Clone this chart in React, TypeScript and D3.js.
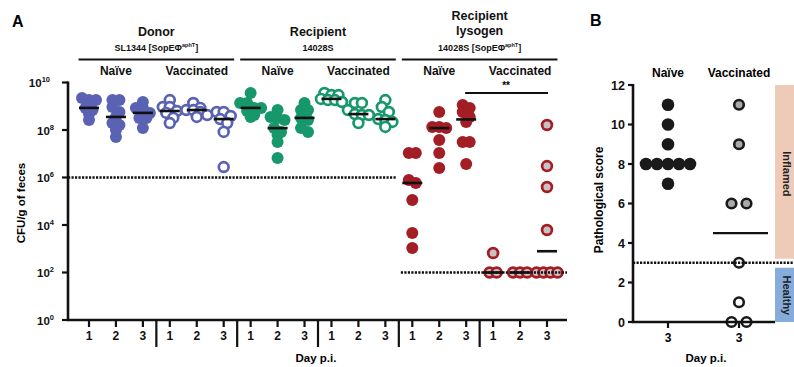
import React from "react";
import * as d3 from "d3";

// panel A: log10 CFU per g of feces, one array per day (1, 2, 3)
const strains = ["Donor", "Recipient", "Recipient lysogen"];
const conditions = ["Naïve", "Vaccinated"];
const days = ["1", "2", "3"];
const yExponents = [0, 2, 4, 6, 8, 10];

const donorNaive = [
  [9.35, 9.26, 9.26, 8.93, 8.84, 8.67, 8.42],
  [9.26, 9.26, 8.97, 8.76, 8.55, 8.29, 8.21, 8.0, 7.71],
  [9.18, 8.93, 8.93, 8.72, 8.51, 8.51, 8.08],
];
const donorVaccinated = [
  [9.26, 8.97, 8.97, 8.8, 8.72, 8.51, 8.29],
  [9.14, 8.93, 8.84, 8.84, 8.76, 8.63, 8.55],
  [8.76, 8.76, 8.59, 8.46, 8.29, 7.92, 6.44],
];
const recipientNaive = [
  [9.56, 9.14, 9.14, 8.93, 8.93, 8.8, 8.63, 8.55],
  [8.84, 8.55, 8.51, 8.42, 8.08, 7.92, 7.79, 7.49, 6.82],
  [9.14, 8.84, 8.84, 8.51, 8.42, 8.08, 7.92],
];
const recipientVaccinated = [
  [9.56, 9.47, 9.47, 9.31, 9.26, 9.26, 9.18],
  [9.14, 9.14, 8.84, 8.67, 8.63, 8.63, 8.29],
  [9.26, 8.97, 8.76, 8.46, 8.42, 8.34, 8.13],
];
const lysogenNaive = [
  [7.03, 7.03, 5.89, 5.77, 5.05, 3.66, 3.03],
  [8.76, 8.13, 8.13, 8.08, 7.58, 7.03, 6.4],
  [9.05, 8.93, 8.76, 8.55, 8.34, 7.49, 7.49, 6.57],
];
const lysogenVaccinated = [
  [2.82, 2, 2],
  [2, 2, 2],
  [8.21, 6.48, 5.6, 3.79, 2, 2, 2, 2],
];

// panel B: pathological score, day 3
const scoreTicks = [0, 2, 4, 6, 8, 10, 12];
const naiveScore = [11, 10, 9, 8, 8, 8, 8, 8, 7];
const vaccinatedScore = [11, 9, 6, 6, 3, 1, 0, 0];

const BLUE = "#5a62b3";
const GREEN = "#16986b";
const RED = "#a31d24";
const FONT = "'Liberation Sans', Arial, sans-serif";

const series = [
  { data: donorNaive, color: BLUE, open: false, fill: BLUE },
  { data: donorVaccinated, color: BLUE, open: true, fill: "#fff" },
  { data: recipientNaive, color: GREEN, open: false, fill: GREEN },
  { data: recipientVaccinated, color: GREEN, open: true, fill: "#fff" },
  { data: lysogenNaive, color: RED, open: false, fill: RED },
  { data: lysogenVaccinated, color: RED, open: true, fill: "#c9c1c4" },
];

// spread points into centred rows, like a scatter dot plot
function swarm(vals: number[], toY: (v: number) => number, bin: number, gap: number) {
  const pts = vals
    .map((v) => ({ v, y: toY(v), dx: 0 }))
    .sort((a, b) => a.y - b.y);
  let row: typeof pts = [];
  const flush = () => {
    row.forEach((p, i) => (p.dx = (i - (row.length - 1) / 2) * gap));
    row = [];
  };
  pts.forEach((p) => {
    if (row.length && p.y - row[0].y > bin) flush();
    row.push(p);
  });
  flush();
  return pts;
}

const App = () => {
  const cols = d3.range(18);
  const x = d3.scalePoint<number>().domain(cols).range([89, 547]);
  const step = x.step();
  const y = d3.scaleLog().domain([1, 1e10]).range([320, 82.5]);
  const yv = (e: number) => y(Math.pow(10, e));

  const xb = d3.scalePoint<string>().domain(conditions).range([668, 739]);
  const yb = d3.scaleLinear().domain([0, 12]).range([322, 85]);

  const lod1 = 6; // detection limits (log10)
  const lod2 = 2;

  const bold = { fontFamily: FONT, fontWeight: 700 } as const;

  return (
    <svg
      width={794}
      height={367}
      style={{ position: "absolute", left: 0, top: 0, background: "#fff" }}
    >
      {/* ---------- panel A ---------- */}
      <text x={12} y={27} fontSize={16} {...bold}>A</text>

      {strains.map((s, g) => {
        const x0 = x(g * 6)! - step / 2 + 3;
        const x1 = x(g * 6 + 5)! + step / 2 - 3;
        const cx = (x0 + x1) / 2;
        return (
          <g key={s} {...bold} textAnchor="middle" fill="#111">
            {g < 2 ? (
              <text x={cx} y={36} fontSize={12.5}>{s}</text>
            ) : (
              <>
                <text x={cx} y={20} fontSize={12.5}>Recipient</text>
                <text x={cx} y={35} fontSize={12.5}>lysogen</text>
              </>
            )}
            <text x={cx} y={51} fontSize={9}>
              {g === 0 ? "SL1344 [SopEΦ" : g === 1 ? "14028S" : "14028S [SopEΦ"}
              {g !== 1 && (
                <>
                  <tspan fontSize={5.5} dy={-4}>aphT</tspan>
                  <tspan dy={4}>]</tspan>
                </>
              )}
            </text>
            <line x1={x0} x2={x1} y1={59.5} y2={59.5} stroke="#111" strokeWidth={2.2} />
            {conditions.map((c, k) => (
              <text key={c} x={x(g * 6 + k * 3 + 1)} y={75} fontSize={12}>{c}</text>
            ))}
          </g>
        );
      })}

      {/* points */}
      {series.map((s, si) =>
        s.data.map((vals, d) => {
          const col = si * 3 + d;
          const cx = x(col)!;
          const pts = swarm(vals, yv, 5, 7);
          return (
            <g key={`${si}-${d}`}>
              {pts.map((p, i) => (
                <circle
                  key={i}
                  cx={cx + p.dx}
                  cy={p.y}
                  r={s.open ? 4.9 : 6}
                  fill={s.fill}
                  stroke={s.open ? s.color : "none"}
                  strokeWidth={s.open ? 2.7 : 0}
                />
              ))}
            </g>
          );
        })
      )}

      {/* medians */}
      {series.map((s, si) =>
        s.data.map((vals, d) => {
          const cx = x(si * 3 + d)!;
          const m = yv(d3.median(vals)!);
          return (
            <line
              key={`m${si}-${d}`}
              x1={cx - 10}
              x2={cx + 10}
              y1={m}
              y2={m}
              stroke="#111"
              strokeWidth={2.6}
            />
          );
        })
      )}

      {/* detection limits */}
      <line
        x1={68}
        x2={x(11)! + step / 2 - 2}
        y1={yv(lod1)}
        y2={yv(lod1)}
        stroke="#111"
        strokeWidth={2.4}
        strokeDasharray="2.2 1.3"
      />
      <line
        x1={x(12)! - step / 2 + 2}
        x2={567}
        y1={yv(lod2)}
        y2={yv(lod2)}
        stroke="#111"
        strokeWidth={2.4}
        strokeDasharray="2.2 1.3"
      />

      {/* significance */}
      <line x1={x(15)! - 28} x2={x(17)! + 1} y1={93} y2={93} stroke="#111" strokeWidth={2.2} />
      <text x={(x(15)! - 28 + x(17)!) / 2} y={89} textAnchor="middle" fontSize={10} {...bold}>**</text>

      {/* axes */}
      <line x1={68} x2={68} y1={81.5} y2={321} stroke="#111" strokeWidth={2.6} />
      <line x1={67} x2={567} y1={320} y2={320} stroke="#111" strokeWidth={2.6} />
      {yExponents.map((e) => (
        <g key={e}>
          <line x1={62} x2={68} y1={yv(e)} y2={yv(e)} stroke="#111" strokeWidth={2.2} />
          <text x={e === 10 ? 50 : 54} y={yv(e) + 4.5} textAnchor="end" fontSize={11.5} {...bold} fill="#111">
            10
            <tspan fontSize={7.5} dy={-5}>{e}</tspan>
          </text>
        </g>
      ))}
      {cols.map((c) => (
        <g key={c}>
          <line x1={x(c)} x2={x(c)} y1={320} y2={327} stroke="#111" strokeWidth={2.2} />
          <text x={x(c)} y={340} textAnchor="middle" fontSize={12} {...bold} fill="#111">
            {days[c % 3]}
          </text>
        </g>
      ))}
      {[1, 2, 3, 4, 5].map((k) => {
        const sx = x(k * 3 - 1)! + step / 2;
        return <line key={k} x1={sx} x2={sx} y1={321} y2={347} stroke="#111" strokeWidth={2.2} />;
      })}
      <text x={316} y={362} textAnchor="middle" fontSize={11.5} {...bold}>Day p.i.</text>
      <text transform="translate(25,203) rotate(-90)" textAnchor="middle" fontSize={11.5} {...bold}>
        CFU/g of feces
      </text>

      {/* ---------- panel B ---------- */}
      <text x={590} y={26} fontSize={16} {...bold}>B</text>
      <rect x={775} y={yb(12)} width={19} height={yb(3) - yb(12) - 4} fill="#eecab9" />
      <rect x={775} y={yb(3) + 5} width={19} height={yb(0) - yb(3) - 5} fill="#86acdb" />
      <text transform={`translate(783,${(yb(12) + yb(3)) / 2}) rotate(90)`} textAnchor="middle" fontSize={11} {...bold} fill="#222">
        Inflamed
      </text>
      <text transform={`translate(783,${(yb(3) + yb(0)) / 2 + 3}) rotate(90)`} textAnchor="middle" fontSize={11} {...bold} fill="#222">
        Healthy
      </text>

      {conditions.map((c) => (
        <text key={c} x={xb(c)} y={77} textAnchor="middle" fontSize={12} {...bold}>{c}</text>
      ))}

      {swarm(naiveScore, yb, 1, 11).map((p, i) => (
        <circle key={`n${i}`} cx={xb("Naïve")! + p.dx} cy={p.y} r={6.3} fill="#1a1a1a" />
      ))}
      {swarm(vaccinatedScore, yb, 1, 15).map((p, i) => (
        <circle
          key={`v${i}`}
          cx={xb("Vaccinated")! + p.dx}
          cy={p.y}
          r={4.8}
          fill={p.v > 3 ? "#aaaaaa" : "#fff"}
          stroke="#1a1a1a"
          strokeWidth={2.6}
        />
      ))}
      <line
        x1={xb("Vaccinated")! - 26}
        x2={xb("Vaccinated")! + 29}
        y1={yb(d3.median(vaccinatedScore)!)}
        y2={yb(d3.median(vaccinatedScore)!)}
        stroke="#111"
        strokeWidth={2.4}
      />
      <line x1={633} x2={794} y1={yb(3)} y2={yb(3)} stroke="#111" strokeWidth={2.4} strokeDasharray="2.2 1.3" />

      <line x1={633} x2={633} y1={84} y2={323} stroke="#111" strokeWidth={2.6} />
      <line x1={632} x2={775} y1={yb(0)} y2={yb(0)} stroke="#111" strokeWidth={2.6} />
      {scoreTicks.map((t) => (
        <g key={t}>
          <line x1={628} x2={633} y1={yb(t)} y2={yb(t)} stroke="#111" strokeWidth={2.2} />
          <text x={625} y={yb(t) + 4.5} textAnchor="end" fontSize={12.5} {...bold} fill="#111">{t}</text>
        </g>
      ))}
      {conditions.map((c) => (
        <g key={c}>
          <line x1={xb(c)} x2={xb(c)} y1={yb(0)} y2={yb(0) + 6} stroke="#111" strokeWidth={2.2} />
          <text x={xb(c)} y={342} textAnchor="middle" fontSize={12} {...bold}>3</text>
        </g>
      ))}
      <text x={706} y={362} textAnchor="middle" fontSize={11.5} {...bold}>Day p.i.</text>
      <text transform="translate(603,200) rotate(-90)" textAnchor="middle" fontSize={12} {...bold}>
        Pathological score
      </text>
    </svg>
  );
};

export default App;
